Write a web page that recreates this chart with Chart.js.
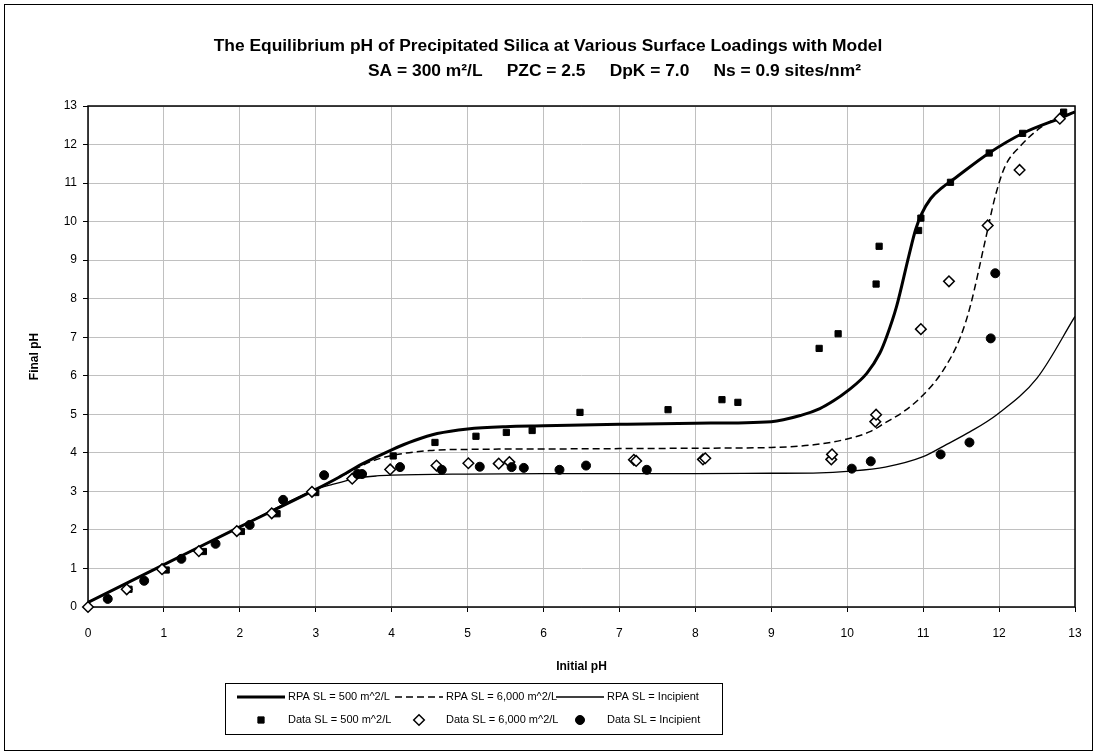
<!DOCTYPE html>
<html>
<head>
<meta charset="utf-8">
<script src="https://cdn.jsdelivr.net/npm/chart.js@4"></script>
<style>
  html, body { margin: 0; padding: 0; background: #fff; }
</style>
</head>
<body>
<canvas id="chart-ph" width="1097" height="755"></canvas>
<script>
const FONT = "'Liberation Sans', Arial, sans-serif";

const titleMain = 'The Equilibrium pH of Precipitated Silica at Various Surface Loadings with Model';
const titleSub = 'SA = 300 m²/L     PZC = 2.5     DpK = 7.0     Ns = 0.9 sites/nm²';
const axisTicks = [0, 1, 2, 3, 4, 5, 6, 7, 8, 9, 10, 11, 12, 13];

// model curves
const rpa500X = [0, 1, 2, 3, 3.3, 3.6, 4.0, 4.3, 4.6, 5.0, 5.5, 6, 7, 8, 9.0, 9.4, 9.64, 9.82, 10.0, 10.26, 10.43, 10.52, 10.65, 10.81, 10.9, 10.98, 11.1, 11.25, 11.4, 11.86, 12.32, 12.85, 13];
const rpa500Y = [0.12, 1.1, 2.08, 3.05, 3.36, 3.7, 4.08, 4.32, 4.5, 4.62, 4.68, 4.7, 4.74, 4.77, 4.81, 4.98, 5.15, 5.35, 5.6, 6.07, 6.59, 7.02, 7.8, 9.1, 9.79, 10.2, 10.6, 10.88, 11.1, 11.77, 12.3, 12.72, 12.85];

const rpa6000X = [0, 1, 2, 3, 3.54, 3.72, 4.0, 4.5, 5.0, 6, 7, 8, 9, 9.56, 10.0, 10.3, 10.5, 10.75, 11.0, 11.27, 11.49, 11.62, 11.82, 11.95, 12.08, 12.28, 12.54, 12.76, 12.9];
const rpa6000Y = [0.12, 1.1, 2.08, 3.05, 3.6, 3.77, 3.93, 4.06, 4.09, 4.1, 4.11, 4.12, 4.14, 4.21, 4.36, 4.55, 4.78, 5.08, 5.5, 6.16, 7.0, 7.8, 9.53, 10.66, 11.44, 11.96, 12.43, 12.69, 12.8];

const rpaIncX = [0, 1, 2, 3, 3.2, 3.54, 3.8, 4.0, 5.0, 6, 7, 8, 9, 9.64, 10.0, 10.5, 11.0, 11.31, 11.62, 11.97, 12.5, 13];
const rpaIncY = [0.12, 1.1, 2.08, 3.05, 3.17, 3.34, 3.4, 3.42, 3.45, 3.46, 3.46, 3.46, 3.47, 3.48, 3.52, 3.63, 3.9, 4.22, 4.55, 4.99, 5.94, 7.54];

// measured points
const data500X = [0.54, 1.03, 1.52, 2.02, 2.49, 3.0, 3.58, 4.02, 4.57, 5.11, 5.51, 5.85, 6.48, 7.64, 8.35, 8.56, 9.63, 9.88, 10.38, 10.42, 10.94, 10.97, 11.36, 11.87, 12.31, 12.85];
const data500Y = [0.46, 0.96, 1.44, 1.96, 2.42, 2.97, 3.47, 3.92, 4.27, 4.43, 4.53, 4.58, 5.05, 5.12, 5.38, 5.31, 6.71, 7.09, 8.38, 9.36, 9.77, 10.09, 11.02, 11.78, 12.29, 12.84];

const data6000X = [0, 0.51, 0.975, 1.46, 1.96, 2.42, 2.95, 3.48, 3.98, 4.59, 5.01, 5.41, 5.55, 7.19, 7.22, 8.1, 8.13, 9.79, 9.8, 10.37, 10.38, 10.97, 11.34, 11.85, 12.27, 12.8];
const data6000Y = [0, 0.46, 0.98, 1.45, 1.97, 2.43, 2.99, 3.33, 3.57, 3.67, 3.73, 3.72, 3.76, 3.82, 3.79, 3.83, 3.86, 3.83, 3.96, 4.81, 4.99, 7.21, 8.45, 9.9, 11.34, 12.67];

const dataIncX = [0.26, 0.74, 1.23, 1.68, 2.13, 2.57, 3.11, 3.55, 3.61, 4.11, 4.66, 5.16, 5.58, 5.74, 6.21, 6.56, 7.36, 10.06, 10.31, 11.23, 11.61, 11.89, 11.95];
const dataIncY = [0.21, 0.68, 1.25, 1.64, 2.13, 2.78, 3.42, 3.45, 3.45, 3.63, 3.56, 3.64, 3.63, 3.61, 3.56, 3.67, 3.56, 3.59, 3.78, 3.96, 4.27, 6.97, 8.66];

const pts = (xs, ys) => xs.map((x, i) => ({x: x, y: ys[i]}));

const lineSet = (label, xs, ys, width, dash, order) => ({
    label: label,
    data: pts(xs, ys),
    showLine: true,
    borderColor: '#000',
    backgroundColor: '#000',
    borderWidth: width,
    borderDash: dash,
    pointRadius: 0,
    cubicInterpolationMode: 'monotone',
    order: order
});

const markSet = (label, xs, ys, style, radius, fill, bw, order) => ({
    label: label,
    data: pts(xs, ys),
    showLine: false,
    clip: false,
    pointStyle: style,
    pointRadius: radius,
    pointBackgroundColor: fill,
    pointBorderColor: '#000',
    pointBorderWidth: bw,
    backgroundColor: fill,
    borderColor: '#000',
    borderWidth: bw,
    order: order
});

const data = {
    datasets: [
        lineSet('RPA SL = 500 m^2/L', rpa500X, rpa500Y, 3, [], 6),
        lineSet('RPA SL = 6,000 m^2/L', rpa6000X, rpa6000Y, 1.5, [7, 4], 5),
        lineSet('RPA SL = Incipient', rpaIncX, rpaIncY, 1.3, [], 4),
        markSet('Data SL = 500 m^2/L', data500X, data500Y, 'rect', 4.4, '#000', 1, 3),
        markSet('Data SL = 6,000 m^2/L', data6000X, data6000Y, 'rectRot', 5.3, '#fff', 1.5, 2),
        markSet('Data SL = Incipient', dataIncX, dataIncY, 'circle', 4.5, '#000', 1, 1)
    ]
};

// page frame, two-line title, plot border and the boxed legend
const framePlugin = {
    id: 'frame',
    beforeDatasetsDraw(chart) {
        const {ctx, chartArea: a} = chart;
        ctx.save();
        ctx.strokeStyle = '#000';
        ctx.lineWidth = 1.5;
        ctx.strokeRect(a.left, a.top, a.right - a.left, a.bottom - a.top);
        ctx.restore();
    },
    afterDraw(chart) {
        const ctx = chart.ctx;
        ctx.save();
        ctx.strokeStyle = '#000';
        ctx.lineWidth = 1;
        ctx.strokeRect(4.5, 4.5, 1088, 746);

        // title (second line sits right of centre in the original)
        ctx.fillStyle = '#000';
        ctx.font = 'bold 17.4px ' + FONT;
        ctx.textBaseline = 'middle';
        ctx.textAlign = 'center';
        ctx.fillText(titleMain, 548, 46);
        ctx.textAlign = 'left';
        ctx.fillText(titleSub, 368, 71);

        // legend
        const box = {x: 225, y: 683, w: 497, h: 51};
        ctx.fillStyle = '#fff';
        ctx.fillRect(box.x, box.y, box.w, box.h);
        ctx.strokeRect(box.x + 0.5, box.y + 0.5, box.w, box.h);
        const colX = [237, 395, 556];
        const rowY = [697, 720];
        ctx.font = '11px ' + FONT;
        chart.data.datasets.forEach((ds, i) => {
            const cx = colX[i % 3];
            const cy = rowY[Math.floor(i / 3)];
            ctx.strokeStyle = '#000';
            ctx.fillStyle = ds.pointBackgroundColor || '#000';
            if (ds.showLine) {
                ctx.lineWidth = ds.borderWidth;
                ctx.setLineDash(ds.borderDash || []);
                ctx.beginPath();
                ctx.moveTo(cx, cy);
                ctx.lineTo(cx + 48, cy);
                ctx.stroke();
                ctx.setLineDash([]);
            } else {
                ctx.lineWidth = ds.pointBorderWidth;
                Chart.helpers.drawPoint(ctx, {
                    pointStyle: ds.pointStyle,
                    radius: ds.pointRadius,
                    rotation: 0,
                    borderWidth: ds.pointBorderWidth
                }, cx + 24, cy);
            }
            ctx.fillStyle = '#000';
            ctx.textAlign = 'left';
            ctx.fillText(ds.label, cx + 51, cy);
        });
        ctx.restore();
    }
};

const gridOpts = {
    color: '#c0c0c0',
    lineWidth: 1,
    drawTicks: true,
    tickLength: 5,
    tickColor: '#000'
};

const config = {
    type: 'scatter',
    data: data,
    options: {
        responsive: false,
        animation: false,
        layout: {padding: {left: 22, right: 22, top: 106, bottom: 0}},
        plugins: {
            legend: {display: false},
            tooltip: {enabled: false},
            title: {display: false}
        },
        scales: {
            x: {
                type: 'linear',
                min: 0,
                max: 13,
                afterFit(scale) { scale.height = 148; },
                afterBuildTicks(scale) { scale.ticks = axisTicks.map(v => ({value: v})); },
                grid: gridOpts,
                border: {display: false},
                ticks: {color: '#000', font: {family: FONT, size: 12}, padding: 14},
                title: {
                    display: true,
                    text: 'Initial pH',
                    color: '#000',
                    font: {family: FONT, size: 12, weight: 'bold'},
                    padding: {top: 0, bottom: 81}
                }
            },
            y: {
                type: 'linear',
                min: 0,
                max: 13,
                afterFit(scale) { scale.width = 66; },
                afterBuildTicks(scale) { scale.ticks = axisTicks.map(v => ({value: v})); },
                grid: gridOpts,
                border: {display: false},
                ticks: {color: '#000', font: {family: FONT, size: 12}, padding: 6},
                title: {
                    display: true,
                    text: 'Final pH',
                    color: '#000',
                    font: {family: FONT, size: 12, weight: 'bold'},
                    padding: {top: 5, bottom: 0}
                }
            }
        }
    },
    plugins: [framePlugin]
};

const phChart = new Chart(document.getElementById('chart-ph'), config);
</script>
</body>
</html>
